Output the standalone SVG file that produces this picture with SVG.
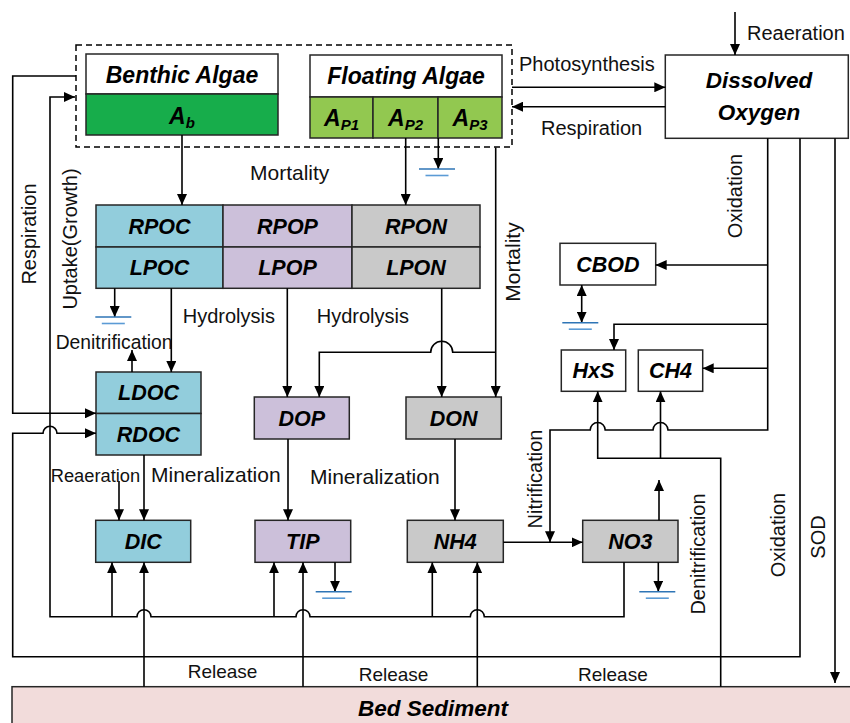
<svg xmlns="http://www.w3.org/2000/svg" width="850" height="723" viewBox="0 0 850 723">
<style>
.lbl{font-family:"Liberation Sans",Arial,sans-serif;font-size:20px;fill:#111}
.vl{font-family:"Liberation Sans",Arial,sans-serif;font-size:20px;fill:#111;text-anchor:middle;dominant-baseline:central}
.nd{font-family:"Liberation Sans",Arial,sans-serif;font-size:21.5px;font-weight:bold;font-style:italic;text-anchor:middle;fill:#000}
.hd{font-size:23px}
.sub{font-size:15px}
.box{stroke:#262626;stroke-width:1.5}
.ln{fill:none;stroke:#000;stroke-width:1.6}
.ar{marker-end:url(#ah)}
.g1{stroke:#2E75B6;stroke-width:1.6}
.g2{stroke:#5B9BD5;stroke-width:1.6}
</style>
<defs>
<marker id="ah" viewBox="0 0 11 10" refX="11" refY="5" markerWidth="11" markerHeight="10" markerUnits="userSpaceOnUse" orient="auto-start-reverse"><path d="M0,0 L11,5 L0,10 z" fill="#000"/></marker>
<g id="gnd"><line class="g1" x1="-18" y1="0" x2="18" y2="0"/><line class="g2" x1="-11.5" y1="6.5" x2="11.5" y2="6.5"/></g>
</defs>
<rect width="850" height="723" fill="#fff"/>

<!-- Bed sediment -->
<g id="n-sediment">
<rect x="12" y="686.7" width="845" height="50" fill="#F2DCDB" class="box"/>
<text class="nd" x="433" y="715.7" style="font-size:22.5px">Bed Sediment</text>
</g>

<!-- Algae group -->
<g id="n-algae">
<rect x="76" y="45" width="436" height="102" fill="none" stroke="#000" stroke-width="1.5" stroke-dasharray="6,4"/>
</g>
<g id="n-benthic">
<rect x="86" y="54" width="192" height="40" fill="#fff" class="box"/>
<rect x="86" y="94" width="192" height="41" fill="#17AD4B" class="box"/>
<text class="nd hd" x="182" y="82.5">Benthic Algae</text>
<text class="nd" x="182" y="124" style="font-size:23px">A<tspan class="sub" dy="4">b</tspan></text>
</g>
<g id="n-floating">
<rect x="310" y="55" width="192" height="42" fill="#fff" class="box"/>
<rect x="310" y="97" width="63" height="41" fill="#92C850" class="box"/>
<rect x="373" y="97" width="65" height="41" fill="#92C850" class="box"/>
<rect x="438" y="97" width="64" height="41" fill="#92C850" class="box"/>
<text class="nd hd" x="406" y="83.5">Floating Algae</text>
<text class="nd" x="341.5" y="125.5" style="font-size:23px">A<tspan class="sub" dy="4">P1</tspan></text>
<text class="nd" x="405.5" y="125.5" style="font-size:23px">A<tspan class="sub" dy="4">P2</tspan></text>
<text class="nd" x="470" y="125.5" style="font-size:23px">A<tspan class="sub" dy="4">P3</tspan></text>
</g>
<g id="n-do">
<rect x="665.3" y="55" width="183" height="83.3" fill="#fff" class="box"/>
<text class="nd" x="759" y="88" style="font-size:22.5px">Dissolved</text>
<text class="nd" x="759" y="119.5" style="font-size:22.5px">Oxygen</text>
</g>

<!-- particulate -->
<g id="n-poc">
<rect x="96" y="205" width="127" height="42" fill="#92CDDC" class="box"/>
<rect x="96" y="247" width="127" height="41.3" fill="#92CDDC" class="box"/>
<text class="nd" x="159.5" y="233.5">RPOC</text>
<text class="nd" x="159.5" y="275.3">LPOC</text>
</g>
<g id="n-pop">
<rect x="223" y="205" width="129" height="42" fill="#CCC0DA" class="box"/>
<rect x="223" y="247" width="129" height="41.3" fill="#CCC0DA" class="box"/>
<text class="nd" x="287.5" y="233.5">RPOP</text>
<text class="nd" x="287.5" y="275.3">LPOP</text>
</g>
<g id="n-pon">
<rect x="352" y="205" width="128" height="42" fill="#C9C9C9" class="box"/>
<rect x="352" y="247" width="128" height="41.3" fill="#C9C9C9" class="box"/>
<text class="nd" x="416" y="233.5">RPON</text>
<text class="nd" x="416" y="275.3">LPON</text>
</g>

<!-- dissolved -->
<g id="n-doc">
<rect x="96" y="372" width="105" height="41.5" fill="#92CDDC" class="box"/>
<rect x="96" y="413.5" width="105" height="41.5" fill="#92CDDC" class="box"/>
<text class="nd" x="148.5" y="400">LDOC</text>
<text class="nd" x="148.5" y="441.5">RDOC</text>
</g>
<g id="n-dop">
<rect x="254.3" y="397" width="95" height="42" fill="#CCC0DA" class="box"/>
<text class="nd" x="301.8" y="425.8">DOP</text>
</g>
<g id="n-don">
<rect x="406" y="397" width="95.3" height="42" fill="#C9C9C9" class="box"/>
<text class="nd" x="453.6" y="425.8">DON</text>
</g>

<!-- inorganic -->
<g id="n-dic">
<rect x="95.7" y="520.3" width="95" height="42" fill="#92CDDC" class="box"/>
<text class="nd" x="143.2" y="549">DIC</text>
</g>
<g id="n-tip">
<rect x="255" y="520.3" width="95.7" height="42" fill="#CCC0DA" class="box"/>
<text class="nd" x="302.8" y="549">TIP</text>
</g>
<g id="n-nh4">
<rect x="407.3" y="520.3" width="96" height="42" fill="#C9C9C9" class="box"/>
<text class="nd" x="455.3" y="549">NH4</text>
</g>
<g id="n-no3">
<rect x="582.7" y="520.3" width="95.3" height="42" fill="#C9C9C9" class="box"/>
<text class="nd" x="630.3" y="549">NO3</text>
</g>

<!-- oxygen demand -->
<g id="n-cbod">
<rect x="560" y="243.3" width="95.7" height="41.7" fill="#fff" class="box"/>
<text class="nd" x="607.8" y="271.7">CBOD</text>
</g>
<g id="n-hxs">
<rect x="561.3" y="350" width="64.4" height="41.3" fill="#fff" class="box"/>
<text class="nd" x="593.5" y="378">HxS</text>
</g>
<g id="n-ch4">
<rect x="638.3" y="350" width="64.4" height="41.3" fill="#fff" class="box"/>
<text class="nd" x="670.5" y="378">CH4</text>
</g>

<!-- connectors -->
<g id="connectors">
<path class="ln ar" d="M735,12 V55"/>
<path class="ln ar" d="M512,87.3 H665.3"/>
<path class="ln ar" d="M665.3,106.7 H512"/>
<path class="ln ar" d="M182,135 V205"/>
<path class="ln ar" d="M405.7,138 V205"/>
<path class="ln ar" d="M438.3,138 V169"/>
<use href="#gnd" x="437" y="169"/>
<path class="ln ar" d="M495.7,147.5 V397"/>
<path class="ln ar" d="M495.7,352.3 H452.7 A11,11 0 0 0 430.7,352.3 H319.3 V397"/>
<path class="ln ar" d="M114.7,288.3 V317"/>
<use href="#gnd" x="113.3" y="317"/>
<path class="ln ar" d="M171.3,288.3 V372"/>
<path class="ln ar" d="M132,372 V350"/>
<path class="ln ar" d="M287.3,288.3 V397"/>
<path class="ln ar" d="M441.7,288.3 V397"/>
<path class="ln ar" d="M288,439 V520.3"/>
<path class="ln ar" d="M455,439 V520.3"/>
<path class="ln ar" d="M144,455 V520.3"/>
<path class="ln ar" d="M119,481 V520.3"/>
<path class="ln ar" d="M503.3,542.3 H582.7"/>
<path class="ln ar" d="M659,520.3 V480"/>
<path class="ln ar" d="M658.3,562.3 V591.7"/>
<use href="#gnd" x="657.3" y="591.7"/>
<path class="ln ar" d="M335,562.3 V591.7"/>
<use href="#gnd" x="333.7" y="591.7"/>
<!-- respiration loop -->
<path class="ln ar" d="M76,76 H12.7 V413.3 H96"/>
<!-- uptake loop -->
<path class="ln ar" d="M624,562.3 V616.7 H484.3 A7,7 0 0 0 470.3,616.7 H310 A7,7 0 0 0 296,616.7 H151 A7,7 0 0 0 137,616.7 H50 V97 H75"/>
<path class="ln ar" d="M112,616.7 V562.3"/>
<path class="ln ar" d="M274,616.7 V562.3"/>
<path class="ln ar" d="M432.3,616.7 V562.3"/>
<!-- outer loop -->
<path class="ln ar" d="M800,138.3 V656.7 H12.7 V433.3 H43 A7,7 0 0 1 57,433.3 H96"/>
<!-- releases -->
<path class="ln ar" d="M144,686.7 V562.3"/>
<path class="ln ar" d="M303,686.7 V562.3"/>
<path class="ln ar" d="M477.3,686.7 V562.3"/>
<!-- oxidation -->
<path class="ln ar" d="M767.7,138.3 V430 H668 A7.5,7.5 0 0 0 653,430 H605.2 A7.5,7.5 0 0 0 590.2,430 H550 V542.3"/>
<path class="ln ar" d="M767.7,265 H655.7"/>
<path class="ln ar" d="M767.7,324.3 H614 V350"/>
<path class="ln ar" d="M767.7,368.3 H702.7"/>
<path class="ln ar" d="M581.7,285 V322.7" marker-start="url(#ah)"/>
<use href="#gnd" x="580.3" y="322.7"/>
<!-- sediment to HxS / CH4 -->
<path class="ln ar" d="M720.7,686.7 V458.3 H597.7 V391.3"/>
<path class="ln ar" d="M660.5,458.3 V391.3"/>
<!-- SOD -->
<path class="ln ar" d="M835,138.3 V683"/>
</g>

<!-- labels -->
<g id="labels">
<text class="lbl" x="747" y="39.5">Reaeration</text>
<text class="lbl" x="519" y="71">Photosynthesis</text>
<text class="lbl" x="541" y="135">Respiration</text>
<text class="lbl" x="250" y="180" style="font-size:21px">Mortality</text>
<text class="lbl" x="182.7" y="323.3">Hydrolysis</text>
<text class="lbl" x="316.7" y="323.3">Hydrolysis</text>
<text class="lbl" x="55.7" y="349" style="font-size:19.3px">Denitrification</text>
<text class="lbl" x="50.7" y="482" style="font-size:18.3px">Reaeration</text>
<text class="lbl" x="151" y="482" style="font-size:21px">Mineralization</text>
<text class="lbl" x="310" y="484" style="font-size:21px">Mineralization</text>
<text class="lbl" x="187.7" y="678.3" style="font-size:19px">Release</text>
<text class="lbl" x="358.7" y="681" style="font-size:19px">Release</text>
<text class="lbl" x="578" y="681" style="font-size:19px">Release</text>
<text class="vl" x="29" y="234" transform="rotate(-90 29 234)">Respiration</text>
<text class="vl" x="70" y="239" transform="rotate(-90 70 239)">Uptake(Growth)</text>
<text class="vl" x="512" y="262" transform="rotate(-90 512 262)" style="font-size:21px">Mortality</text>
<text class="vl" x="735" y="196" transform="rotate(-90 735 196)">Oxidation</text>
<text class="vl" x="535" y="479" transform="rotate(-90 535 479)">Nitrification</text>
<text class="vl" x="697.5" y="554" transform="rotate(-90 697.5 554)">Denitrification</text>
<text class="vl" x="778" y="535" transform="rotate(-90 778 535)">Oxidation</text>
<text class="vl" x="818" y="537" transform="rotate(-90 818 537)">SOD</text>
</g>
</svg>
